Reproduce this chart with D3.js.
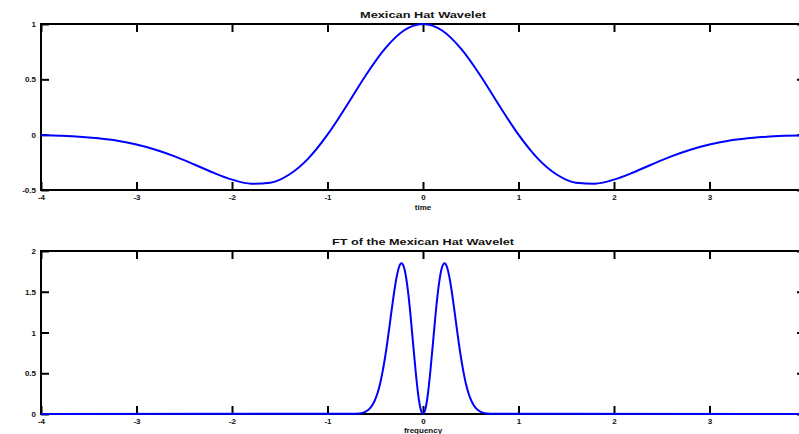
<!DOCTYPE html>
<html>
<head>
<meta charset="utf-8">
<script src="https://cdn.jsdelivr.net/npm/d3@7"></script>
<style>
  body { margin: 0; background: #fff; overflow: hidden; }
  text { font-family: "Liberation Sans", Arial, sans-serif; font-weight: bold; fill: #111; }
</style>
</head>
<body>
<div class="fig"></div>
<script>
// mexican hat, sampled every 0.2 from -4 to 4
const timeVals = d3.range(-20, 21).map(i => i * 0.2);
const psiVals = [
  -0.005, -0.010, -0.018, -0.033, -0.055, -0.089, -0.136, -0.196, -0.267, -0.342,
  -0.406, -0.443, -0.434, -0.360, -0.214, 0, 0.261, 0.535, 0.775, 0.941,
  1,
  0.941, 0.775, 0.535, 0.261, 0, -0.214, -0.360, -0.434, -0.443, -0.406,
  -0.342, -0.267, -0.196, -0.136, -0.089, -0.055, -0.033, -0.018, -0.010, -0.005
];

// FT, sampled every 0.025 between -0.7 and 0.7, flat zero outside
const freqVals = [-4].concat(d3.range(-28, 29).map(i => i * 0.025), [4]);
const ftVals = [
  0,
  0.003, 0.006, 0.010, 0.017, 0.029, 0.048, 0.077, 0.119, 0.179, 0.261,
  0.369, 0.508, 0.675, 0.870, 1.083, 1.304, 1.512, 1.688, 1.807, 1.850,
  1.803, 1.661, 1.433, 1.140, 0.815, 0.500, 0.236, 0.061,
  0,
  0.061, 0.236, 0.500, 0.815, 1.140, 1.433, 1.661, 1.803, 1.850, 1.807,
  1.688, 1.512, 1.304, 1.083, 0.870, 0.675, 0.508, 0.369, 0.261, 0.179,
  0.119, 0.077, 0.048, 0.029, 0.017, 0.010, 0.006, 0.003,
  0
];

const xTicks = [-4, -3, -2, -1, 0, 1, 2, 3, 4];
const topYTicks = [-0.5, 0, 0.5, 1];
const botYTicks = [0, 0.5, 1, 1.5, 2];

const width = 799;
const height = 434;

const svg = d3.select('.fig')
  .append('svg')
  .attr('width', width)
  .attr('height', height);

const fmt = d => String(d);

function panel(cfg) {
  const x = d3.scaleLinear().domain([-4, 4]).range([41, 805]);
  const y = d3.scaleLinear().domain(cfg.ydom).range([cfg.bottom, cfg.top]);
  const g = svg.append('g');

  const line = d3.line()
    .x((d, i) => x(cfg.xs[i]))
    .y(d => y(d))
    .curve(d3.curveMonotoneX);

  // axes, ticks pointing in
  const bx = g.append('g').attr('transform', `translate(0,${cfg.bottom})`)
    .call(d3.axisBottom(x).tickValues(xTicks).tickFormat(fmt).tickSize(-8).tickSizeOuter(0).tickPadding(4));
  const tx = g.append('g').attr('transform', `translate(0,${cfg.top})`)
    .call(d3.axisTop(x).tickValues(xTicks).tickSize(-8).tickSizeOuter(0).tickFormat(''));
  const ly = g.append('g').attr('transform', 'translate(41,0)')
    .call(d3.axisLeft(y).tickValues(cfg.yticks).tickFormat(fmt).tickSize(-8).tickSizeOuter(0).tickPadding(5));
  const ry = g.append('g').attr('transform', 'translate(805,0)')
    .call(d3.axisRight(y).tickValues(cfg.yticks).tickSize(-8).tickSizeOuter(0).tickFormat(''));

  [bx, tx, ly, ry].forEach(a => {
    a.select('.domain').remove();
    a.selectAll('line').attr('stroke', '#000').attr('stroke-width', 2);
    a.selectAll('text').attr('font-size', '8px').attr('font-family', null).style('fill', '#111');
  });

  g.append('rect')
    .attr('x', 41).attr('y', cfg.top)
    .attr('width', 805 - 41).attr('height', cfg.bottom - cfg.top)
    .attr('fill', 'none').attr('stroke', '#000').attr('stroke-width', 2);

  g.append('path')
    .datum(cfg.vals)
    .attr('fill', 'none')
    .attr('stroke', '#0000ff')
    .attr('stroke-width', 2)
    .attr('d', line);

  g.append('text')
    .attr('x', 423).attr('y', cfg.top - 6)
    .attr('text-anchor', 'middle')
    .attr('font-size', '9px')
    .attr('textLength', cfg.titleW).attr('lengthAdjust', 'spacingAndGlyphs')
    .text(cfg.title);

  g.append('text')
    .attr('x', 423).attr('y', cfg.bottom + cfg.xlabOff)
    .attr('text-anchor', 'middle')
    .attr('font-size', '8px')
    .text(cfg.xlabel);
}

panel({ top: 24, bottom: 190, ydom: [-0.5, 1], yticks: topYTicks, xlabOff: 20,
        xs: timeVals, vals: psiVals, title: 'Mexican Hat Wavelet', titleW: 126, xlabel: 'time' });
panel({ top: 251, bottom: 414, ydom: [0, 2], yticks: botYTicks, xlabOff: 19,
        xs: freqVals, vals: ftVals, title: 'FT of the Mexican Hat Wavelet', titleW: 182, xlabel: 'frequency' });
</script>
</body>
</html>
